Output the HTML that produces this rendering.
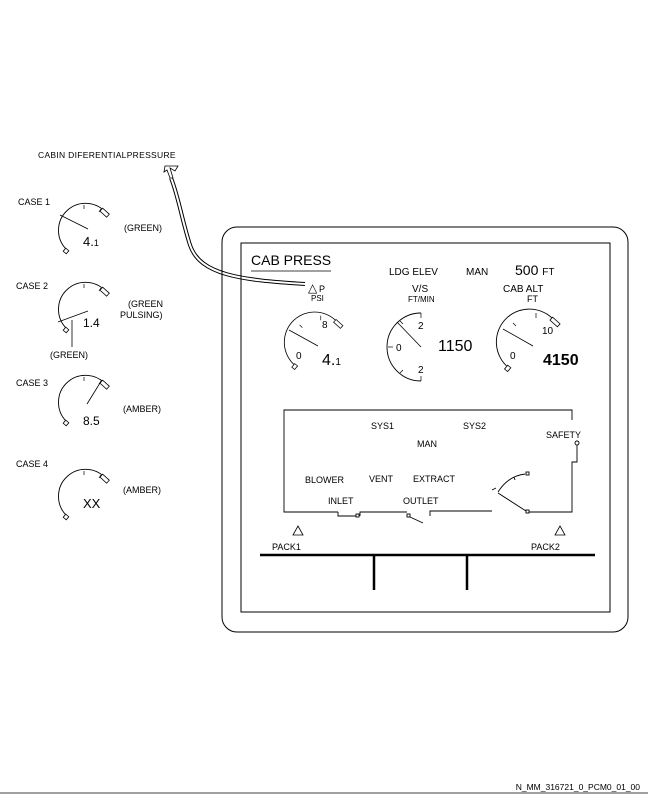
<!DOCTYPE html>
<html><head><meta charset="utf-8"><style>
html,body{margin:0;padding:0;background:#fff}
svg{display:block}
text{font-family:"Liberation Sans",sans-serif;fill:#000}
</style></head><body>
<svg width="648" height="803" viewBox="0 0 648 803" xmlns="http://www.w3.org/2000/svg">
<defs>
<g id="g">
 <path d="M-20,18 A27,27 0 1 1 20,-18" fill="none" stroke="#000" stroke-width="0.9"/>
 <rect x="-23" y="17" width="4" height="4" transform="rotate(40 -21 19)" fill="#fff" stroke="#000" stroke-width="0.8"/>
 <rect x="16" y="-24" width="4" height="9" transform="rotate(-48 18 -19)" fill="#fff" stroke="#000" stroke-width="0.8"/>
 <line x1="-3" y1="-27" x2="-3" y2="-23" stroke="#000" stroke-width="0.7"/>
 <line x1="14" y1="-23" x2="12" y2="-20" stroke="#000" stroke-width="0.7"/>
</g>
<g id="G">
 <path d="M-24,22 A33,33 0 1 1 24,-22" fill="none" stroke="#000" stroke-width="0.9"/>
 <rect x="-27" y="20" width="4" height="5" transform="rotate(40 -25 22)" fill="#fff" stroke="#000" stroke-width="0.8"/>
 <rect x="20" y="-29" width="4" height="10" transform="rotate(-48 22 -24)" fill="#fff" stroke="#000" stroke-width="0.8"/>
 <line x1="-20" y1="-23" x2="-17" y2="-20" stroke="#000" stroke-width="0.7"/>
 <line x1="3" y1="-33" x2="3" y2="-28" stroke="#000" stroke-width="0.7"/>
</g>
</defs>

<!-- left side -->
<text x="38" y="158" font-size="8.5" letter-spacing="0.3">CABIN DIFERENTIALPRESSURE</text>
<path d="M305,284 C240,280 200,275 190,245 C182,220 178,195 171,178" fill="none" stroke="#000" stroke-width="4"/>
<path d="M305,284 C240,280 200,275 190,245 C182,220 178,195 171,178" fill="none" stroke="#fff" stroke-width="2"/>
<polygon points="165,166 178,166 175,171 170,168 173,178 170,178 167,170 164,172" fill="#fff" stroke="#000" stroke-width="0.8"/>

<text x="18" y="205" font-size="9">CASE 1</text>
<use href="#g" x="87" y="232"/>
<line x1="60" y1="215" x2="88" y2="229" stroke="#000" stroke-width="0.8"/>
<text x="83" y="246" font-size="13">4.<tspan font-size="9">1</tspan></text>
<text x="124" y="231" font-size="9">(GREEN)</text>

<text x="16" y="289" font-size="9">CASE 2</text>
<use href="#g" x="87" y="311"/>
<line x1="58" y1="322" x2="88" y2="311" stroke="#000" stroke-width="0.8"/>
<line x1="72" y1="320" x2="72" y2="347" stroke="#000" stroke-width="0.8"/>
<text x="83" y="327" font-size="12">1.4</text>
<text x="128" y="307" font-size="9">(GREEN</text>
<text x="120" y="318" font-size="9">PULSING)</text>
<text x="50" y="358" font-size="9">(GREEN)</text>

<text x="16" y="386" font-size="9">CASE 3</text>
<use href="#g" x="87" y="404"/>
<line x1="87" y1="404" x2="100" y2="383" stroke="#000" stroke-width="0.8"/>
<text x="83" y="425" font-size="12">8.5</text>
<text x="123" y="412" font-size="9">(AMBER)</text>

<text x="16" y="467" font-size="9">CASE 4</text>
<use href="#g" x="87" y="498"/>
<text x="83" y="508" font-size="13">XX</text>
<text x="123" y="493" font-size="9">(AMBER)</text>

<!-- panel -->
<rect x="222" y="227" width="406" height="405" rx="15" fill="none" stroke="#000" stroke-width="1"/>
<rect x="241" y="243" width="369" height="369" fill="none" stroke="#000" stroke-width="1"/>
<text x="251" y="265" font-size="14">CAB PRESS</text>
<line x1="251" y1="271" x2="331" y2="271" stroke="#000" stroke-width="0.8"/>
<text x="389" y="275" font-size="10">LDG ELEV</text>
<text x="466" y="275" font-size="10">MAN</text>
<text x="515" y="275" font-size="14">500 <tspan font-size="10">FT</tspan></text>
<text x="308" y="292" font-size="12">△</text>
<text x="319" y="292" font-size="9">P</text>
<text x="311" y="301" font-size="8">PSI</text>
<text x="412" y="292" font-size="10">V/S</text>
<text x="408" y="302" font-size="8">FT/MIN</text>
<text x="503" y="292" font-size="10">CAB ALT</text>
<text x="527" y="302" font-size="9">FT</text>

<!-- dP gauge -->
<g transform="translate(318,346) scale(0.92)"><use href="#G"/></g>
<line x1="289" y1="330" x2="318" y2="346" stroke="#000" stroke-width="0.8"/>
<text x="296" y="359" font-size="10">0</text>
<text x="322" y="328" font-size="10">8</text>
<text x="322" y="365" font-size="16">4.<tspan font-size="10">1</tspan></text>

<!-- V/S gauge -->
<path d="M421,313 A34,34 0 0 0 421,381" fill="none" stroke="#000" stroke-width="0.9"/>
<line x1="388" y1="347" x2="393" y2="347" stroke="#000" stroke-width="0.7"/>
<line x1="421" y1="313" x2="421" y2="318" stroke="#000" stroke-width="0.7"/>
<line x1="421" y1="381" x2="421" y2="376" stroke="#000" stroke-width="0.7"/>
<line x1="400" y1="321" x2="403" y2="324" stroke="#000" stroke-width="0.7"/>
<line x1="400" y1="373" x2="403" y2="370" stroke="#000" stroke-width="0.7"/>
<line x1="397" y1="322" x2="421" y2="347" stroke="#000" stroke-width="0.8"/>
<text x="418" y="329" font-size="10">2</text>
<text x="396" y="351" font-size="10">0</text>
<text x="418" y="373" font-size="10">2</text>
<text x="438" y="351" font-size="16">1150</text>

<!-- CAB ALT gauge -->
<use href="#G" x="533" y="346"/>
<line x1="503" y1="329" x2="533" y2="346" stroke="#000" stroke-width="0.8"/>
<text x="510" y="359" font-size="10">0</text>
<text x="542" y="334" font-size="10">10</text>
<text x="543" y="365" font-size="16" font-weight="bold">4150</text>

<!-- lower box -->
<g fill="none" stroke="#000" stroke-width="0.9">
<path d="M338,512 L284,512 L284,410 L572,410 L572,420"/>
<path d="M577,445 L577,462 L572,462 L572,512 L529,512"/>
<path d="M338,512 L338,516 L356,516"/>
<path d="M360,516 L360,512 L407,512"/>
<line x1="410" y1="517" x2="423" y2="523"/>
<path d="M430,516 L430,511 L492,511"/>
<line x1="526" y1="511" x2="498" y2="493"/>
<line x1="492" y1="490" x2="496" y2="488"/>
<path d="M498,492 Q508,476 525,474"/>
<line x1="514" y1="477" x2="515" y2="480"/>
<circle cx="577" cy="443" r="2"/>
<rect x="526" y="472" width="3" height="3"/>
<rect x="526" y="510" width="3" height="3"/>
<rect x="356" y="514" width="3" height="3"/>
<rect x="407" y="514" width="3" height="3"/>
</g>
<g font-size="9">
<text x="371" y="429">SYS1</text>
<text x="463" y="429">SYS2</text>
<text x="417" y="447">MAN</text>
<text x="546" y="438">SAFETY</text>
<text x="305" y="483">BLOWER</text>
<text x="369" y="482">VENT</text>
<text x="413" y="482">EXTRACT</text>
<text x="328" y="504">INLET</text>
<text x="403" y="504">OUTLET</text>
<text x="272" y="550">PACK1</text>
<text x="531" y="550">PACK2</text>
</g>
<polygon points="298,526 303,535 293,535" fill="none" stroke="#000" stroke-width="0.8"/>
<polygon points="560,526 565,535 555,535" fill="none" stroke="#000" stroke-width="0.8"/>
<line x1="260" y1="555" x2="595" y2="555" stroke="#000" stroke-width="2.5"/>
<line x1="374" y1="555" x2="374" y2="590" stroke="#000" stroke-width="2.5"/>
<line x1="467" y1="555" x2="467" y2="590" stroke="#000" stroke-width="2.5"/>

<text x="640" y="790" font-size="8.5" text-anchor="end">N_MM_316721_0_PCM0_01_00</text>
<line x1="0" y1="793" x2="648" y2="793" stroke="#000" stroke-width="0.8"/>
</svg>
</body></html>
